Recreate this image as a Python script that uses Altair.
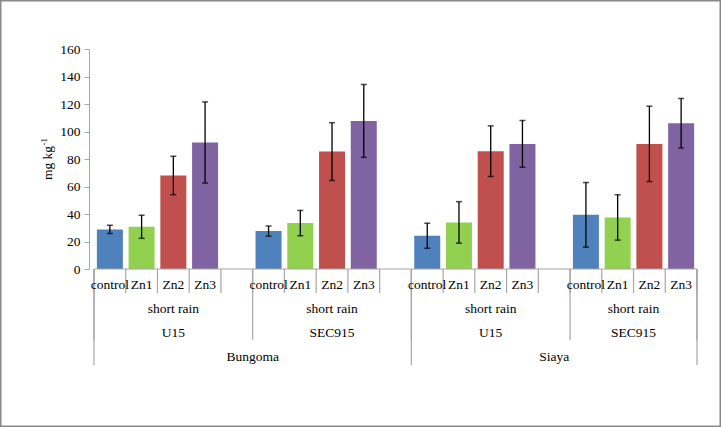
import altair as alt
import pandas as pd

# ---- data ----
locations = ["Bungoma", "Bungoma", "Siaya", "Siaya"]
varieties = ["U15", "SEC915", "U15", "SEC915"]
season = "short rain"
treatments = ["control", "Zn1", "Zn2", "Zn3"]
colors = ["#4F81BD", "#92D050", "#C0504D", "#8064A2"]

means_bungoma_u15 = [28.8, 30.7, 68.0, 92.0]
errs_bungoma_u15 = [3.0, 8.4, 14.0, 29.5]
means_bungoma_sec915 = [27.6, 33.4, 85.4, 107.7]
errs_bungoma_sec915 = [3.7, 9.2, 21.0, 26.5]
means_siaya_u15 = [24.2, 33.9, 85.7, 91.0]
errs_siaya_u15 = [9.1, 15.1, 18.4, 17.0]
means_siaya_sec915 = [39.4, 37.5, 91.0, 106.0]
errs_siaya_sec915 = [23.5, 16.5, 27.4, 18.0]

y_ticks = [0, 20, 40, 60, 80, 100, 120, 140, 160]

group_means = [means_bungoma_u15, means_bungoma_sec915, means_siaya_u15, means_siaya_sec915]
group_errs = [errs_bungoma_u15, errs_bungoma_sec915, errs_siaya_u15, errs_siaya_sec915]

# ---- category table (Excel-like, with a blank row after each group but the last) ----
rows = []
slot = 0
for g in range(len(locations)):
    for t, trt in enumerate(treatments):
        m = group_means[g][t]
        e = group_errs[g][t]
        rows.append(dict(slot=slot, location=locations[g], variety=varieties[g],
                         treatment=trt, mean=m, lo=m - e, hi=m + e))
        slot += 1
    if g < len(locations) - 1:
        rows.append(dict(slot=slot, location=locations[g], variety=varieties[g],
                         treatment="", mean=None, lo=None, hi=None))
        slot += 1
cats = pd.DataFrame(rows)
bars = cats[cats["treatment"] != ""].copy()

n = len(cats)
xmin, xmax = -0.5, n - 0.5

# boundaries between category slots
bnd = []
for i in range(n + 1):
    if i == 0 or i == n or cats.loc[i, "location"] != cats.loc[i - 1, "location"]:
        lvl = "loc"
    elif cats.loc[i, "variety"] != cats.loc[i - 1, "variety"]:
        lvl = "var"
    else:
        lvl = "trt"
    bnd.append(dict(pos=i - 0.5, level=lvl))
bnd = pd.DataFrame(bnd)

var_lab = (cats.groupby(["location", "variety"], sort=False)["slot"]
           .agg(["min", "max"]).reset_index())
var_lab["pos"] = (var_lab["min"] + var_lab["max"]) / 2
var_lab["season"] = season
loc_lab = cats.groupby("location", sort=False)["slot"].agg(["min", "max"]).reset_index()
loc_lab["pos"] = (loc_lab["min"] + loc_lab["max"]) / 2

FONT = "Liberation Serif, Times New Roman, serif"
FS = 13.5
GRAY = "#A6A6A6"

xs = alt.Scale(domain=[xmin, xmax], nice=False, zero=False)
ys = alt.Scale(domain=[0, 160], nice=False)
yaxis = alt.Axis(values=y_ticks, grid=False, title=None, tickSize=5,
                 domainColor=GRAY, tickColor=GRAY, labelFont=FONT,
                 labelFontSize=FS, labelColor="black", labelPadding=4,
                 labelOverlap=False, labelBound=False, labelFlush=False)

base_bars = alt.Chart(bars)

bar_layer = base_bars.mark_bar(size=26, orient="vertical").encode(
    x=alt.X("slot:Q", scale=xs, axis=None),
    y=alt.Y("mean:Q", scale=ys, axis=yaxis),
    color=alt.Color("treatment:N", scale=alt.Scale(domain=treatments, range=colors),
                    legend=None),
)

err_rule = base_bars.mark_rule(color="black", strokeWidth=1.3).encode(
    x=alt.X("slot:Q", scale=xs, axis=None), y=alt.Y("lo:Q", scale=ys, axis=yaxis), y2="hi:Q")
cap_lo = base_bars.mark_tick(color="black", orient="horizontal", size=6, thickness=1.5).encode(
    x=alt.X("slot:Q", scale=xs, axis=None), y=alt.Y("lo:Q", scale=ys, axis=yaxis))
cap_hi = base_bars.mark_tick(color="black", orient="horizontal", size=6, thickness=1.5).encode(
    x=alt.X("slot:Q", scale=xs, axis=None), y=alt.Y("hi:Q", scale=ys, axis=yaxis))

# category axis baseline
baseline = alt.Chart(pd.DataFrame({"a": [xmin], "b": [xmax]})).mark_rule(
    color=GRAY, strokeWidth=1.2).encode(
    x=alt.X("a:Q", scale=xs, axis=None), x2="b:Q", y=alt.value(220))

bnd_chart = alt.Chart(bnd)
tick_trt = bnd_chart.mark_rule(color=GRAY, strokeWidth=1.2).encode(
    x=alt.X("pos:Q", scale=xs, axis=None), y=alt.value(220), y2=alt.value(244))
tick_var = bnd_chart.transform_filter(alt.datum.level != "trt").mark_rule(
    color=GRAY, strokeWidth=1.2).encode(
    x=alt.X("pos:Q", scale=xs, axis=None), y=alt.value(220), y2=alt.value(291))
tick_loc = bnd_chart.transform_filter(alt.datum.level == "loc").mark_rule(
    color=GRAY, strokeWidth=1.2).encode(
    x=alt.X("pos:Q", scale=xs, axis=None), y=alt.value(220), y2=alt.value(316))

txt = dict(font=FONT, fontSize=FS, color="black", align="center", baseline="middle")
trt_text = alt.Chart(bars).mark_text(**txt).encode(
    x=alt.X("slot:Q", scale=xs, axis=None), y=alt.value(236), text="treatment:N")
season_text = alt.Chart(var_lab).mark_text(**txt).encode(
    x=alt.X("pos:Q", scale=xs, axis=None), y=alt.value(260), text="season:N")
var_text = alt.Chart(var_lab).mark_text(**txt).encode(
    x=alt.X("pos:Q", scale=xs, axis=None), y=alt.value(284), text="variety:N")
loc_text = alt.Chart(loc_lab).mark_text(**txt).encode(
    x=alt.X("pos:Q", scale=xs, axis=None), y=alt.value(308), text="location:N")

# y-axis title "mg kg-1" with superscript
one = pd.DataFrame({"t": ["mg kg"], "s": ["-1"]})
ytitle = alt.Chart(one).mark_text(font=FONT, fontSize=13.5, angle=270, align="center",
                                  baseline="alphabetic", color="black").encode(
    x=alt.value(-37), y=alt.value(114), text="t:N")
ysup = alt.Chart(one).mark_text(font=FONT, fontSize=9, angle=270, align="left",
                                baseline="alphabetic", color="black").encode(
    x=alt.value(-42), y=alt.value(96.5), text="s:N")

# outer border of the chart area
border = alt.Chart(one).mark_rect(fill=None, stroke="#898989", strokeWidth=1.5).encode(
    x=alt.value(-88.25), x2=alt.value(631.25), y=alt.value(-48.25), y2=alt.value(377.25))

chart = alt.layer(
    border, bar_layer, err_rule, cap_lo, cap_hi, baseline,
    tick_trt, tick_var, tick_loc, trt_text, season_text, var_text, loc_text,
    ytitle, ysup,
).properties(
    width=613, height=220,
    autosize=alt.AutoSizeParams(type="none"),
    padding={"left": 89, "top": 49, "right": 19, "bottom": 158},
    background="white",
).configure_view(stroke=None)

chart.save("out.html", embed_options={"renderer": "svg", "actions": False})
